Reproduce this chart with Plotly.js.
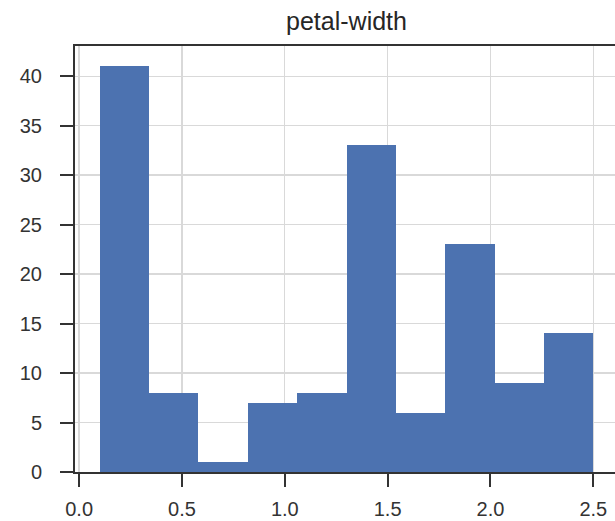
<!DOCTYPE html>
<html>
<head>
<meta charset="utf-8">
<script src="https://cdn.plot.ly/plotly-3.0.1.min.js"></script>
<style>html,body{margin:0;padding:0;overflow:hidden;background:#fff;}</style>
</head>
<body>
<div id="chart"></div>
<script>
// Histogram of petal-width (bin edges and counts)
const binEdges = [0.1, 0.34, 0.58, 0.82, 1.06, 1.30, 1.54, 1.78, 2.02, 2.26, 2.50];
const counts = [41, 8, 1, 7, 8, 33, 6, 23, 9, 14];
const xTickVals = [0.0, 0.5, 1.0, 1.5, 2.0, 2.5];
const xTickText = ["0.0", "0.5", "1.0", "1.5", "2.0", "2.5"];
const yTickVals = [0, 5, 10, 15, 20, 25, 30, 35, 40];
const chartTitle = "petal-width";

const centers = [], widths = [];
for (let i = 0; i < counts.length; i++) {
  centers.push((binEdges[i] + binEdges[i + 1]) / 2);
  widths.push(binEdges[i + 1] - binEdges[i]);
}
const xMin = binEdges[0], xMax = binEdges[binEdges.length - 1];
const pad = (xMax - xMin) * 0.05;
const yMax = Math.max(...counts) * 1.05;

const trace = {
  type: 'bar',
  x: centers,
  y: counts,
  width: widths,
  marker: {color: '#4c72b0', line: {width: 0}},
  hoverinfo: 'x+y'
};

const FONT = 'Liberation Sans, Arial, sans-serif';
const axisCommon = {
  showline: true, linecolor: '#333333', linewidth: 2, mirror: true,
  ticks: 'outside', ticklen: 13, tickwidth: 2, tickcolor: '#333333',
  showgrid: true, gridcolor: '#d9d9d9', gridwidth: 1.3,
  zeroline: false,
  tickfont: {family: FONT, size: 20, color: '#333333'}
};

const layout = {
  width: 625, height: 521,
  margin: {l: 75, r: 7, t: 46, b: 49},
  paper_bgcolor: '#ffffff', plot_bgcolor: '#ffffff',
  showlegend: false,
  bargap: 0,
  title: {text: chartTitle, x: 0.5, xref: 'paper', xanchor: 'center',
          y: 1 - 21 / 521, yref: 'container', yanchor: 'middle',
          font: {family: FONT, size: 25, color: '#262626'}},
  xaxis: Object.assign({}, axisCommon, {
    range: [xMin - pad, xMax + pad],
    tickvals: xTickVals, ticktext: xTickText,
    ticklabelstandoff: 5
  }),
  yaxis: Object.assign({}, axisCommon, {
    range: [0, yMax],
    tickvals: yTickVals,
    ticklabelstandoff: 14
  })
};

Plotly.newPlot('chart', [trace], layout, {displayModeBar: false, staticPlot: true});
</script>
</body>
</html>
